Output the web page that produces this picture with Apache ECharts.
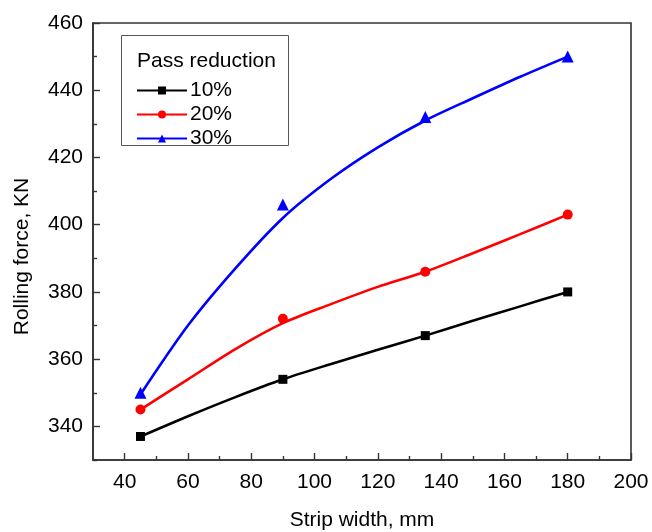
<!DOCTYPE html>
<html>
<head>
<meta charset="utf-8">
<script src="https://cdn.jsdelivr.net/npm/echarts@6/dist/echarts.min.js"></script>
<style>
  html, body { margin: 0; padding: 0; background: #fff; }
  #chart { width: 652px; height: 532px; }
</style>
</head>
<body>
<div id="chart"></div>
<script>
// Measured points: rolling force (KN) at each strip width (mm)
const widths = [45, 90, 135, 180];
const force10 = [337, 354, 367, 380];
const force20 = [345, 372, 386, 403];
const force30 = [350, 406, 432, 450];

// Fitted trend curves, sampled along the strip width
const curveWidths = [45, 60, 75, 90, 105, 120, 135, 150, 165, 180];
const curve10 = [337, 343, 348.7, 354, 358.5, 362.8, 367, 371.4, 375.7, 380];
const curve20 = [345, 354, 363, 370.7, 376.3, 381.5, 386, 391.5, 397.2, 403];
const curve30 = [349.5, 370, 387, 402, 413.5, 423, 431, 437.6, 444, 450];

const seriesNames = ['10%', '20%', '30%'];
const seriesColors = ['#000000', '#ff0000', '#0000ff'];
const seriesSymbols = ['rect', 'circle', 'triangle'];
const symbolSizes = [9, 10, 12];

// Axis tick positions
const xMajor = [40, 60, 80, 100, 120, 140, 160, 180, 200];
const xMinor = [50, 70, 90, 110, 130, 150, 170, 190];
const yMajor = [340, 360, 380, 400, 420, 440, 460];
const yMinor = [330, 350, 370, 390, 410, 430, 450];

const FONT = 'Liberation Sans, Arial, sans-serif';
const FONT_SIZE = 21;
const AXIS_COLOR = '#333';

const zip = (xs, ys) => xs.map((x, i) => [x, ys[i]]);
const points = [force10, force20, force30];
const curves = [curve10, curve20, curve30];

const series = [];
seriesNames.forEach((name, i) => {
  series.push({
    name: name,
    type: 'line',
    data: zip(curveWidths, curves[i]),
    smooth: 0.3,
    showSymbol: false,
    symbol: seriesSymbols[i],
    color: seriesColors[i],
    lineStyle: { color: seriesColors[i], width: 2.6 },
    z: 2
  });
});
seriesNames.forEach((name, i) => {
  series.push({
    name: name + ' data',
    type: 'scatter',
    data: zip(widths, points[i]),
    symbol: seriesSymbols[i],
    symbolSize: symbolSizes[i],
    itemStyle: { color: seriesColors[i], opacity: 1 },
    z: 3
  });
});

const baseAxis = {
  type: 'value',
  splitLine: { show: false },
  axisLine: { show: true, onZero: false, lineStyle: { color: AXIS_COLOR, width: 1.6 } }
};

const labelStyle = { fontSize: FONT_SIZE, color: '#000', fontFamily: FONT };

const option = {
  animation: false,
  backgroundColor: '#fff',
  textStyle: { fontFamily: FONT },
  grid: {
    left: 93, top: 23, right: 21, bottom: 72,
    outerBoundsMode: 'none',
    containLabel: false,
    show: true, borderColor: AXIS_COLOR, borderWidth: 1.6
  },
  graphic: [
    {
      // legend frame
      type: 'rect',
      left: 121, top: 35,
      shape: { width: 167, height: 110 },
      style: { fill: '#fff', stroke: '#555', lineWidth: 1 },
      z: 5
    },
    {
      type: 'text',
      left: 137, top: 51,
      style: { text: 'Pass reduction', font: FONT_SIZE + 'px ' + FONT, fill: '#000' },
      z: 6
    }
  ],
  legend: {
    data: seriesNames,
    orient: 'vertical',
    left: 121, top: 35,
    padding: [45, 55, 0, 15],
    itemWidth: 50, itemHeight: 10, itemGap: 3,
    borderWidth: 0,
    z: 7,
    textStyle: Object.assign({ padding: [0, 0, 0, -2] }, labelStyle)
  },
  xAxis: [
    Object.assign({}, baseAxis, {
      min: 30, max: 200,
      position: 'bottom',
      name: 'Strip width, mm',
      nameLocation: 'middle',
      nameGap: 50,
      nameTextStyle: labelStyle,
      axisTick: { show: true, inside: true, length: 7, customValues: xMajor, lineStyle: { color: AXIS_COLOR, width: 1.4 } },
      axisLabel: Object.assign({ show: true, customValues: xMajor, margin: 12 }, labelStyle)
    }),
    Object.assign({}, baseAxis, {
      min: 30, max: 200,
      position: 'bottom',
      axisLine: { show: false },
      axisTick: { show: true, inside: true, length: 4, customValues: xMinor, lineStyle: { color: AXIS_COLOR, width: 1.4 } },
      axisLabel: { show: false }
    })
  ],
  yAxis: [
    Object.assign({}, baseAxis, {
      min: 330, max: 460,
      position: 'left',
      name: 'Rolling force, KN',
      nameLocation: 'middle',
      nameGap: 60,
      nameTextStyle: Object.assign({ padding: [0, 30, 0, 0] }, labelStyle),
      axisTick: { show: true, inside: true, length: 7, customValues: yMajor, lineStyle: { color: AXIS_COLOR, width: 1.4 } },
      axisLabel: Object.assign({ show: true, customValues: yMajor, margin: 10 }, labelStyle)
    }),
    Object.assign({}, baseAxis, {
      min: 330, max: 460,
      position: 'left',
      axisLine: { show: false },
      axisTick: { show: true, inside: true, length: 4, customValues: yMinor, lineStyle: { color: AXIS_COLOR, width: 1.4 } },
      axisLabel: { show: false }
    })
  ],
  series: series
};

const chart = echarts.init(document.getElementById('chart'), null, { renderer: 'canvas' });
chart.setOption(option);
</script>
</body>
</html>
